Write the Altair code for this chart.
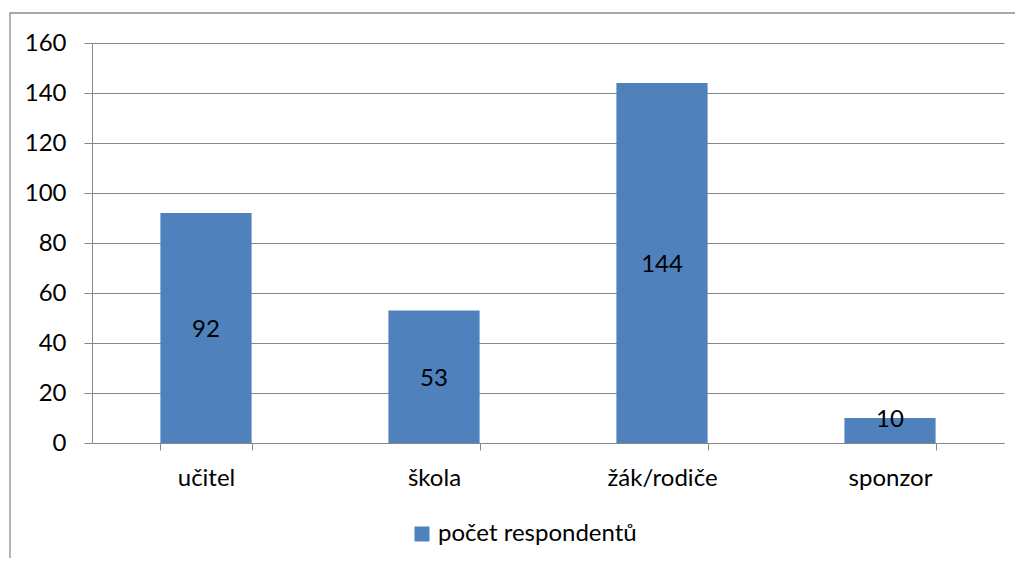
import altair as alt
import pandas as pd

categories = ["učitel", "škola", "žák/rodiče", "sponzor"]
values = [92, 53, 144, 10]
label_pos = [46, 26.5, 72, 10]
series_name = "počet respondentů"
y_ticks = [0, 20, 40, 60, 80, 100, 120, 140, 160]

df = pd.DataFrame({
    "kategorie": categories,
    "hodnota": values,
    "pozice": label_pos,
    "rada": [series_name] * len(categories),
})

FONT = "Lato"
FS = 24
W, H = 912, 400
GRAY = "#878787"
BLUE = "#4F81BD"

x_enc = alt.X(
    "kategorie:N", sort=categories, title=None,
    scale=alt.Scale(paddingInner=0.6, paddingOuter=0.3),
    axis=alt.Axis(labelAngle=0, tickBand="extent", domainColor=GRAY, tickColor=GRAY,
                  tickSize=7, labelFontSize=FS, labelFont=FONT, labelColor="black",
                  labelBaseline="alphabetic", labelPadding=35, grid=False),
)
y_enc = alt.Y(
    "hodnota:Q", title=None,
    scale=alt.Scale(domain=[0, 160], nice=False),
    axis=alt.Axis(values=y_ticks, grid=True, gridColor=GRAY, domainColor=GRAY, tickColor=GRAY,
                  tickSize=8, labelPadding=18, labelFontSize=FS, labelFont=FONT, labelColor="black"),
)

border = alt.Chart(pd.DataFrame({"a": [0]})).mark_rect(
    fill=None, stroke="#8c8c8c", strokeWidth=1.3
).encode(x=alt.value(-82), x2=alt.value(W + 200), y=alt.value(-30), y2=alt.value(H + 300))

bars = alt.Chart(df).mark_bar().encode(
    x=x_enc,
    y=y_enc,
    color=alt.Color("rada:N", scale=alt.Scale(range=[BLUE]),
                    legend=alt.Legend(orient="none", legendX=318, legendY=479, title=None,
                                      symbolType="square", symbolSize=225, symbolStrokeWidth=0,
                                      labelFontSize=FS, labelFont=FONT, labelColor="black",
                                      labelOffset=4, labelLimit=0, padding=0)),
)

labels = alt.Chart(df).mark_text(font=FONT, fontSize=FS, color="black", baseline="middle", dy=2).encode(
    x=alt.X("kategorie:N", sort=categories),
    y=alt.Y("pozice:Q"),
    text=alt.Text("hodnota:Q"),
)

chart = alt.layer(border, bars, labels).properties(
    width=W, height=H,
    autosize=alt.AutoSizeParams(type="none"),
    padding={"left": 84, "top": 35, "right": 11, "bottom": 115},
    background="white",
).configure_view(stroke=None)

chart.save("out.html", embed_options={"renderer": "svg", "actions": False})
